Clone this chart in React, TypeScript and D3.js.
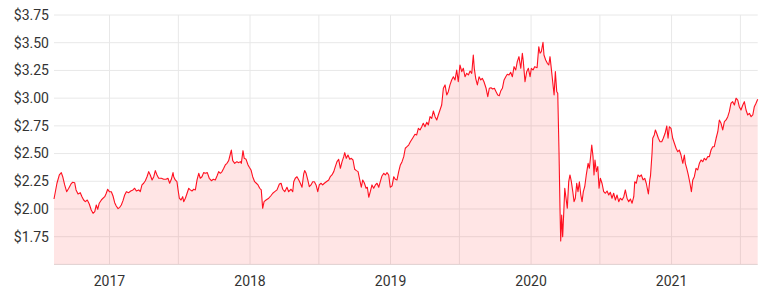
import React from "react";
import * as d3 from "d3";

// Decimal-year dates of each sample and the matching price in dollars
const dates: number[] = [
  2016.605, 2016.626, 2016.643, 2016.657, 2016.667, 2016.681, 2016.695, 2016.710, 2016.726, 2016.738,
  2016.752, 2016.762, 2016.776, 2016.792, 2016.804, 2016.816, 2016.828, 2016.842, 2016.856, 2016.870,
  2016.883, 2016.895, 2016.906, 2016.916, 2016.927, 2016.942, 2016.954, 2016.966, 2016.977, 2016.987,
  2016.999, 2017.013, 2017.025, 2017.037, 2017.048, 2017.061, 2017.073, 2017.084, 2017.096, 2017.108,
  2017.120, 2017.137, 2017.151, 2017.167, 2017.179, 2017.191, 2017.208, 2017.219, 2017.231, 2017.243,
  2017.255, 2017.267, 2017.279, 2017.290, 2017.303, 2017.315, 2017.326, 2017.338, 2017.350, 2017.369,
  2017.386, 2017.402, 2017.416, 2017.428, 2017.440, 2017.452, 2017.457, 2017.468, 2017.480, 2017.488,
  2017.497, 2017.509, 2017.521, 2017.528, 2017.540, 2017.552, 2017.564, 2017.575, 2017.587, 2017.599,
  2017.611, 2017.623, 2017.635, 2017.646, 2017.658, 2017.670, 2017.682, 2017.696, 2017.710, 2017.725,
  2017.739, 2017.753, 2017.765, 2017.777, 2017.789, 2017.801, 2017.813, 2017.824, 2017.836, 2017.848,
  2017.860, 2017.867, 2017.877, 2017.891, 2017.907, 2017.920, 2017.931, 2017.938, 2017.950, 2017.959,
  2017.972, 2017.986, 2017.995, 2018.007, 2018.019, 2018.033, 2018.045, 2018.057, 2018.069, 2018.080,
  2018.090, 2018.100, 2018.114, 2018.133, 2018.147, 2018.162, 2018.176, 2018.192, 2018.209, 2018.221,
  2018.233, 2018.247, 2018.263, 2018.275, 2018.292, 2018.304, 2018.311, 2018.322, 2018.334, 2018.347,
  2018.358, 2018.370, 2018.382, 2018.389, 2018.399, 2018.411, 2018.422, 2018.434, 2018.446, 2018.458,
  2018.470, 2018.482, 2018.493, 2018.505, 2018.517, 2018.529, 2018.543, 2018.560, 2018.571, 2018.583,
  2018.596, 2018.607, 2018.619, 2018.631, 2018.643, 2018.655, 2018.667, 2018.674, 2018.685, 2018.697,
  2018.710, 2018.721, 2018.733, 2018.745, 2018.757, 2018.769, 2018.781, 2018.792, 2018.802, 2018.813,
  2018.826, 2018.835, 2018.845, 2018.856, 2018.868, 2018.880, 2018.892, 2018.904, 2018.916, 2018.927,
  2018.939, 2018.952, 2018.963, 2018.975, 2018.987, 2018.998, 2019.011, 2019.023, 2019.034, 2019.046,
  2019.058, 2019.070, 2019.082, 2019.094, 2019.105, 2019.117, 2019.129, 2019.141, 2019.158, 2019.174,
  2019.186, 2019.198, 2019.210, 2019.222, 2019.233, 2019.245, 2019.258, 2019.269, 2019.281, 2019.293,
  2019.305, 2019.317, 2019.329, 2019.340, 2019.352, 2019.364, 2019.376, 2019.388, 2019.400, 2019.411,
  2019.423, 2019.435, 2019.447, 2019.459, 2019.471, 2019.482, 2019.494, 2019.507, 2019.518, 2019.530,
  2019.542, 2019.554, 2019.566, 2019.578, 2019.589, 2019.596, 2019.606, 2019.618, 2019.630, 2019.642,
  2019.653, 2019.665, 2019.680, 2019.692, 2019.703, 2019.715, 2019.727, 2019.739, 2019.751, 2019.763,
  2019.774, 2019.784, 2019.796, 2019.808, 2019.820, 2019.831, 2019.843, 2019.855, 2019.867, 2019.879,
  2019.891, 2019.902, 2019.914, 2019.927, 2019.938, 2019.945, 2019.957, 2019.969, 2019.981, 2019.993,
  2020.002, 2020.014, 2020.026, 2020.043, 2020.055, 2020.064, 2020.073, 2020.085, 2020.092, 2020.104,
  2020.116, 2020.126, 2020.135, 2020.144, 2020.154, 2020.164, 2020.173, 2020.183, 2020.190, 2020.199,
  2020.206, 2020.211, 2020.218, 2020.225, 2020.233, 2020.240, 2020.249, 2020.258, 2020.268, 2020.277,
  2020.287, 2020.297, 2020.306, 2020.315, 2020.325, 2020.334, 2020.344, 2020.354, 2020.363, 2020.372,
  2020.382, 2020.393, 2020.406, 2020.415, 2020.425, 2020.432, 2020.441, 2020.448, 2020.455, 2020.465,
  2020.475, 2020.484, 2020.493, 2020.505, 2020.517, 2020.529, 2020.541, 2020.553, 2020.564, 2020.576,
  2020.588, 2020.600, 2020.612, 2020.624, 2020.635, 2020.648, 2020.660, 2020.671, 2020.683, 2020.695,
  2020.707, 2020.719, 2020.731, 2020.738, 2020.749, 2020.761, 2020.773, 2020.785, 2020.797, 2020.809,
  2020.820, 2020.835, 2020.845, 2020.850, 2020.861, 2020.866, 2020.877, 2020.885, 2020.894, 2020.906,
  2020.918, 2020.930, 2020.941, 2020.954, 2020.966, 2020.975, 2020.984, 2020.996, 2021.008, 2021.020,
  2021.032, 2021.044, 2021.055, 2021.067, 2021.080, 2021.091, 2021.098, 2021.108, 2021.119, 2021.131,
  2021.141, 2021.151, 2021.162, 2021.174, 2021.186, 2021.198, 2021.210, 2021.222, 2021.233, 2021.245,
  2021.257, 2021.269, 2021.281, 2021.293, 2021.304, 2021.317, 2021.329, 2021.340, 2021.352, 2021.364,
  2021.376, 2021.388, 2021.400, 2021.411, 2021.423, 2021.435, 2021.447, 2021.459, 2021.471, 2021.482,
  2021.494, 2021.507, 2021.518, 2021.530, 2021.542, 2021.554, 2021.566, 2021.578, 2021.589, 2021.601,
  2021.613,
];

const prices: number[] = [
  2.09, 2.232, 2.307, 2.328, 2.291, 2.217, 2.156, 2.187, 2.226, 2.241,
  2.237, 2.172, 2.135, 2.147, 2.111, 2.081, 2.066, 2.081, 2.045, 1.991,
  1.961, 1.976, 2.036, 1.997, 2.052, 2.081, 2.097, 2.111, 2.142, 2.178,
  2.156, 2.156, 2.117, 2.057, 2.027, 2.003, 2.015, 2.036, 2.075, 2.126,
  2.156, 2.147, 2.162, 2.172, 2.187, 2.162, 2.172, 2.156, 2.217, 2.232,
  2.255, 2.291, 2.337, 2.307, 2.262, 2.291, 2.346, 2.307, 2.277, 2.277,
  2.268, 2.268, 2.277, 2.232, 2.268, 2.328, 2.291, 2.262, 2.246, 2.172,
  2.097, 2.081, 2.111, 2.066, 2.097, 2.142, 2.187, 2.172, 2.162, 2.178,
  2.172, 2.262, 2.322, 2.277, 2.291, 2.328, 2.322, 2.328, 2.277, 2.255,
  2.268, 2.262, 2.298, 2.337, 2.322, 2.337, 2.367, 2.397, 2.412, 2.436,
  2.496, 2.532, 2.436, 2.412, 2.427, 2.418, 2.427, 2.412, 2.526, 2.457,
  2.448, 2.397, 2.376, 2.352, 2.291, 2.246, 2.232, 2.217, 2.187, 2.172,
  2.006, 2.066, 2.081, 2.097, 2.117, 2.142, 2.156, 2.172, 2.226, 2.232,
  2.178, 2.156, 2.196, 2.156, 2.178, 2.156, 2.246, 2.277, 2.291, 2.262,
  2.232, 2.196, 2.316, 2.346, 2.322, 2.262, 2.201, 2.217, 2.246, 2.246,
  2.217, 2.156, 2.217, 2.232, 2.217, 2.232, 2.246, 2.262, 2.291, 2.307,
  2.337, 2.382, 2.427, 2.448, 2.367, 2.427, 2.472, 2.508, 2.457, 2.487,
  2.448, 2.457, 2.442, 2.358, 2.346, 2.337, 2.262, 2.196, 2.262, 2.237,
  2.187, 2.196, 2.106, 2.156, 2.217, 2.187, 2.217, 2.232, 2.196, 2.246,
  2.298, 2.322, 2.307, 2.328, 2.307, 2.196, 2.208, 2.291, 2.268, 2.262,
  2.337, 2.397, 2.427, 2.472, 2.548, 2.562, 2.577, 2.607, 2.641, 2.674,
  2.668, 2.728, 2.713, 2.742, 2.773, 2.742, 2.782, 2.758, 2.833, 2.818,
  2.884, 2.833, 2.803, 2.848, 2.893, 2.938, 3.089, 3.119, 3.028, 3.058,
  3.119, 3.164, 3.193, 3.164, 3.254, 3.148, 3.299, 3.239, 3.269, 3.193,
  3.224, 3.209, 3.245, 3.224, 3.389, 3.269, 3.179, 3.119, 3.193, 3.164,
  3.179, 3.148, 3.089, 3.013, 3.089, 3.094, 3.083, 3.089, 3.058, 3.028,
  3.022, 3.064, 3.089, 3.164, 3.193, 3.215, 3.209, 3.233, 3.193, 3.284,
  3.254, 3.329, 3.374, 3.269, 3.405, 3.329, 3.148, 3.239, 3.269, 3.193,
  3.269, 3.254, 3.284, 3.275, 3.464, 3.405, 3.419, 3.504, 3.389, 3.344,
  3.314, 3.299, 3.374, 3.269, 3.148, 3.028, 3.239, 3.058, 3.044, 2.517,
  2.006, 1.711, 1.946, 1.750, 1.976, 2.187, 2.097, 2.006, 2.246, 2.307,
  2.246, 2.156, 2.066, 2.097, 2.232, 2.156, 2.246, 2.126, 2.066, 2.156,
  2.201, 2.307, 2.412, 2.367, 2.487, 2.577, 2.472, 2.307, 2.442, 2.337,
  2.382, 2.187, 2.277, 2.232, 2.156, 2.142, 2.162, 2.126, 2.151, 2.097,
  2.142, 2.081, 2.126, 2.066, 2.097, 2.081, 2.111, 2.172, 2.097, 2.066,
  2.090, 2.052, 2.111, 2.246, 2.232, 2.307, 2.291, 2.307, 2.262, 2.277,
  2.232, 2.135, 2.262, 2.298, 2.503, 2.638, 2.668, 2.713, 2.683, 2.638,
  2.607, 2.607, 2.638, 2.683, 2.749, 2.638, 2.742, 2.728, 2.638, 2.593,
  2.548, 2.517, 2.532, 2.487, 2.412, 2.487, 2.412, 2.367, 2.307, 2.232,
  2.156, 2.262, 2.291, 2.367, 2.352, 2.412, 2.442, 2.427, 2.457, 2.442,
  2.472, 2.472, 2.532, 2.562, 2.562, 2.638, 2.697, 2.803, 2.773, 2.713,
  2.788, 2.803, 2.833, 2.878, 2.954, 2.968, 2.938, 2.999, 2.983, 2.923,
  2.893, 2.938, 2.968, 2.893, 2.848, 2.863, 2.833, 2.848, 2.923, 2.954,
  2.990,
];

const yTicks: number[] = [1.75, 2.0, 2.25, 2.5, 2.75, 3.0, 3.25, 3.5, 3.75];
const yearTicks: number[] = [2017, 2018, 2019, 2020, 2021];
const halfYearTicks: number[] = [2017.49, 2018.49, 2019.49, 2020.49, 2021.49];
const xDomain: [number, number] = [2016.605, 2021.613];
const yDomain: [number, number] = [1.5, 3.75];

export default function App() {
  const W = 764;
  const H = 291;
  const left = 54;
  const right = 757.7;
  const top = 15;
  const bottom = 264.4;

  const x = d3.scaleLinear().domain(xDomain).range([left, right]);
  const y = d3.scaleLinear().domain(yDomain).range([bottom, top]);

  const series = dates.map((d, i) => ({ t: d, v: prices[i] }));
  const line = d3
    .line<{ t: number; v: number }>()
    .x((d) => x(d.t))
    .y((d) => y(d.v));
  const area = d3
    .area<{ t: number; v: number }>()
    .x((d) => x(d.t))
    .y0(bottom)
    .y1((d) => y(d.v));

  const font = "Roboto, 'Open Sans', sans-serif";

  return (
    <div style={{ position: "fixed", left: 0, top: 0 }}>
      <svg width={W} height={H} style={{ display: "block", background: "#fff" }}>
        {/* horizontal grid */}
        {yTicks.map((t) => (
          <line key={"h" + t} x1={left} x2={right} y1={y(t)} y2={y(t)} stroke="#e8e8e8" strokeWidth={1} />
        ))}
        {/* vertical grid */}
        {[...yearTicks, ...halfYearTicks].map((t) => (
          <line key={"v" + t} x1={x(t)} x2={x(t)} y1={top} y2={bottom} stroke="#e8e8e8" strokeWidth={1} />
        ))}
        <path d={area(series) || ""} fill="rgba(255,0,0,0.1)" stroke="none" />
        <path d={line(series) || ""} fill="none" stroke="#ff1020" strokeWidth={1.1} strokeLinejoin="round" />
        <line x1={left} x2={right} y1={bottom} y2={bottom} stroke="#e0d0d0" strokeWidth={1} />
        {/* y labels */}
        {yTicks.map((t) => (
          <text
            key={"yl" + t}
            x={49}
            y={y(t)}
            dy="0.35em"
            textAnchor="end"
            fontFamily={font}
            fontSize={14}
            fill="#333"
          >
            {d3.format("$.2f")(t)}
          </text>
        ))}
        {/* x labels */}
        {yearTicks.map((t) => (
          <text
            key={"xl" + t}
            x={x(t)}
            y={281}
            dy="0.35em"
            textAnchor="middle"
            fontFamily={font}
            fontSize={14}
            fill="#333"
          >
            {String(t)}
          </text>
        ))}
      </svg>
    </div>
  );
}
